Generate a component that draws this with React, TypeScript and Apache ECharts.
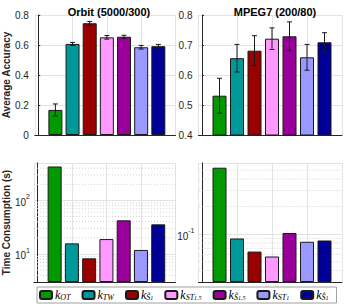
import React, { useEffect, useRef } from 'react';
import * as echarts from 'echarts';

const methods = ['kOT', 'kTW', 'kS01', 'kST15', 'kS15', 'kST01', 'kS01hat'];
const methodLabels = [
  '{k|k}{s|OT}',
  '{k|k}{s|TW}',
  '{k|k}{s|S̃}{t|1}',
  '{k|k}{s|ST}{t|1.5}',
  '{k|k}{s|S̃}{t|1.5}',
  '{k|k}{s|ST}{t|1}',
  '{k|k}{s|Ŝ}{t|1}',
];
const colors = ['#009900', '#009999', '#990000', '#ff99ff', '#990099', '#9999ff', '#000099'];
const positions = [1, 2, 3, 4, 5, 6, 7];

const orbitAcc = [0.167, 0.607, 0.745, 0.651, 0.655, 0.585, 0.592];
const orbitErr = [0.04, 0.01, 0.012, 0.012, 0.01, 0.012, 0.012];
const mpegAcc = [0.531, 0.656, 0.681, 0.721, 0.729, 0.659, 0.709];
const mpegErr = [0.058, 0.046, 0.05, 0.036, 0.048, 0.043, 0.032];
const orbitTime = [430, 15.8, 8.3, 19, 42.5, 11.9, 35.8];
const mpegTime = [0.533, 0.0897, 0.0645, 0.057, 0.103, 0.0826, 0.0853];

const orbitMinorTicks = [4, 5, 6, 7, 8, 9, 20, 30, 40, 50, 60, 70, 80, 90, 200, 300, 400];
const mpegMinorTicks = [0.04, 0.05, 0.06, 0.07, 0.08, 0.09, 0.2, 0.3, 0.4, 0.5];

const titles = ['Orbit (5000/300)', 'MPEG7 (200/80)'];
const yNames = ['Average Accuracy', 'Time Consumption (s)'];

const SANS = "'Liberation Sans', Arial, Helvetica, sans-serif";
const SERIF = "'Liberation Serif', 'DejaVu Serif', serif";
const AXIS = '#262626';
const GRID = '#e3e3e3';

function App() {
  const ref = useRef<HTMLDivElement>(null);
  useEffect(() => {
    if (!ref.current) return;
    const chart = echarts.init(ref.current, undefined, { renderer: 'svg' });

    const grids = [
      { left: 32.7, top: 15, width: 142.8, height: 120 },
      { left: 198.5, top: 15, width: 143.5, height: 120 },
      { left: 32.7, top: 163, width: 142.8, height: 119 },
      { left: 198.5, top: 163, width: 143.5, height: 119 },
    ];

    const xAxes = grids.map((_, i) => ({
      type: 'value',
      gridIndex: i,
      min: -0.2,
      max: 8,
      axisLabel: { show: false },
      axisTick: { show: false },
      axisLine: { show: true, lineStyle: { color: AXIS, width: 1 } },
      splitLine: { show: true, lineStyle: { color: GRID, width: 1 } },
    }));

    const logLabel = (v: number) => {
      const e = Math.log10(v);
      if (Math.abs(e - Math.round(e)) < 1e-6) return `{b|10}{sup|${Math.round(e)}}`;
      return '';
    };
    const logRich = {
      b: { fontSize: 10, fontFamily: SANS, color: AXIS, lineHeight: 14, verticalAlign: 'bottom' },
      sup: { fontSize: 7, fontFamily: SANS, color: AXIS, lineHeight: 8, verticalAlign: 'top' },
    };
    const nameStyle = { fontSize: 10, fontWeight: 'bold', fontFamily: SANS, color: AXIS };

    const yAxes: any[] = [
      {
        type: 'value', gridIndex: 0, min: 0, max: 0.8, interval: 0.2,
        name: yNames[0], nameLocation: 'middle', nameGap: 15, nameTextStyle: nameStyle,
        axisLabel: { fontSize: 10, fontFamily: SANS, color: AXIS, margin: 6 },
        axisLine: { show: true, lineStyle: { color: AXIS } },
        axisTick: { show: true, inside: true, length: 2, lineStyle: { color: AXIS } },
        splitLine: { lineStyle: { color: GRID } },
      },
      {
        type: 'value', gridIndex: 1, min: 0.4, max: 0.8, interval: 0.1,
        axisLabel: { fontSize: 10, fontFamily: SANS, color: AXIS, margin: 6 },
        axisLine: { show: true, lineStyle: { color: AXIS } },
        axisTick: { show: true, inside: true, length: 2, lineStyle: { color: AXIS } },
        splitLine: { lineStyle: { color: GRID } },
      },
      {
        type: 'log', logBase: 10, gridIndex: 2, min: 3, max: 500, startValue: 3,
        name: yNames[1], nameLocation: 'middle', nameGap: 15, nameTextStyle: nameStyle,
        axisLabel: { formatter: logLabel, rich: logRich, margin: 4 },
        axisLine: { show: true, lineStyle: { color: AXIS } },
        axisTick: { show: false },
        splitLine: { lineStyle: { color: GRID } },
      },
      {
        type: 'log', logBase: 10, gridIndex: 3, min: 0.03, max: 0.6, startValue: 0.03,
        axisLabel: { formatter: logLabel, rich: logRich, margin: 4 },
        axisLine: { show: true, lineStyle: { color: AXIS } },
        axisTick: { show: false },
        splitLine: { lineStyle: { color: GRID } },
      },
    ];

    const panelValues = [orbitAcc, mpegAcc, orbitTime, mpegTime];
    const series: any[] = [];

    panelValues.forEach((vals, p) => {
      methods.forEach((m, i) => {
        series.push({
          type: 'bar',
          name: m,
          xAxisIndex: p,
          yAxisIndex: p,
          data: [[positions[i], vals[i]]],
          barWidth: 14,
          barGap: '-100%',
          clip: true,
          z: 3,
          itemStyle: { color: colors[i], borderColor: '#1a1a1a', borderWidth: 1 },
        });
      });
    });

    const errRender = (params: any, api: any) => {
      const x = api.value(0);
      const lo = api.value(1);
      const hi = api.value(2);
      const a = api.coord([x, hi]);
      const b = api.coord([x, lo]);
      const w = 2.5;
      const st = { stroke: '#1a1a1a', lineWidth: 1 };
      return {
        type: 'group',
        children: [
          { type: 'line', shape: { x1: a[0], y1: a[1], x2: b[0], y2: b[1] }, style: st },
          { type: 'line', shape: { x1: a[0] - w, y1: a[1], x2: a[0] + w, y2: a[1] }, style: st },
          { type: 'line', shape: { x1: b[0] - w, y1: b[1], x2: b[0] + w, y2: b[1] }, style: st },
        ],
      };
    };
    [[orbitAcc, orbitErr], [mpegAcc, mpegErr]].forEach(([vals, errs], p) => {
      series.push({
        type: 'custom',
        xAxisIndex: p,
        yAxisIndex: p,
        z: 5,
        silent: true,
        renderItem: errRender,
        encode: { x: 0, y: [1, 2] },
        data: vals.map((v, i) => [positions[i], v - errs[i], v + errs[i]]),
      });
    });

    const minorRender = (params: any, api: any) => {
      const cs = params.coordSys;
      const y = api.coord([0, api.value(1)])[1];
      return {
        type: 'line',
        shape: { x1: cs.x, y1: y, x2: cs.x + cs.width, y2: y },
        style: { stroke: '#cfcfcf', lineWidth: 1, lineDash: [1, 2] },
      };
    };
    [orbitMinorTicks, mpegMinorTicks].forEach((ticks, k) => {
      series.push({
        type: 'custom',
        xAxisIndex: 2 + k,
        yAxisIndex: 2 + k,
        z: 1,
        silent: true,
        renderItem: minorRender,
        encode: { x: 0, y: 1 },
        data: ticks.map((t) => [0, t]),
      });
    });

    const legendRich = {
      k: { fontFamily: SERIF, fontStyle: 'italic', fontSize: 12, color: '#000', lineHeight: 12, verticalAlign: 'bottom' },
      s: { fontFamily: SERIF, fontStyle: 'italic', fontSize: 8, color: '#000', lineHeight: 8, verticalAlign: 'bottom' },
      t: { fontFamily: SERIF, fontStyle: 'italic', fontSize: 6, color: '#000', lineHeight: 6, verticalAlign: 'bottom' },
    };

    chart.setOption({
      animation: false,
      backgroundColor: '#ffffff',
      title: titles.map((t, i) => ({
        text: t,
        left: i === 0 ? 104 : 270,
        top: 1,
        textAlign: 'center',
        textStyle: { fontSize: 11, fontWeight: 'bold', fontFamily: SANS, color: '#000' },
      })),
      grid: grids,
      xAxis: xAxes,
      yAxis: yAxes,
      legend: {
        data: methods,
        left: 37,
        top: 287,
        width: 306,
        orient: 'horizontal',
        itemWidth: 12,
        itemHeight: 8,
        itemGap: 11,
        padding: [2, 8, 2, 2],
        borderColor: '#a0a0a0',
        borderWidth: 1,
        backgroundColor: '#ffffff',
        selectedMode: false,
        formatter: (name: string) => methodLabels[methods.indexOf(name)],
        textStyle: { rich: legendRich, padding: [0, 0, 0, -2] },
      },
      series,
    });

    return () => chart.dispose();
  }, []);

  return (
    <div
      ref={ref}
      style={{ position: 'fixed', left: 0, top: 0, width: 349, height: 308, background: '#fff' }}
    />
  );
}

export default App;
